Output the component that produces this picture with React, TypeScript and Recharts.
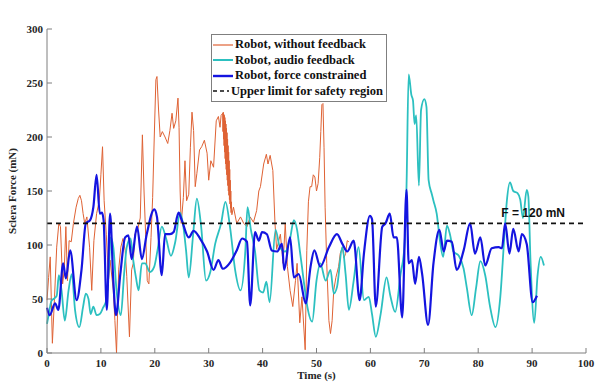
import { Legend, Line, LineChart, ReferenceLine, XAxis, YAxis } from "recharts";

// Robot, without feedback (s, mN)
const noFeedbackTime = [
  0, 0.3, 0.6, 1.0, 1.4, 1.8, 2.2, 2.5, 2.9, 3.2,
  3.5, 3.8, 4.1, 4.5, 4.9, 5.4, 5.8, 6.1, 6.4, 6.7,
  7.0, 7.4, 7.9, 8.3, 8.7, 9.2, 9.7, 10.0, 10.3, 10.6,
  11.0, 11.4, 11.7, 12.3, 12.6, 12.9, 13.3, 13.7, 14.1, 14.5,
  14.8, 15.3, 15.7, 16.0, 16.3, 16.8, 17.3, 17.7, 18.0, 18.3,
  18.6, 18.9, 19.3, 19.6, 19.9, 20.2, 20.4, 20.7, 21.0, 21.4,
  21.9, 22.4, 22.8, 23.2, 23.5, 23.9, 24.3, 24.5, 24.7, 24.9,
  25.3, 25.6, 25.9, 26.3, 26.6, 26.9, 27.2, 27.5, 27.8, 28.3,
  28.7, 29.2, 29.7, 30.0, 30.4, 30.9, 31.4, 31.8, 32.1, 32.3,
  // fast oscillation around 33 s
  32.6, 32.65, 32.7, 32.75, 32.8, 32.85, 32.9, 32.95, 33.0, 33.05,
  33.1, 33.15, 33.2, 33.25, 33.3, 33.35, 33.4, 33.45, 33.5, 33.55,
  33.6, 33.65, 33.7, 33.75, 33.8, 33.85, 33.9, 33.95, 34.0, 34.05,
  34.1, 34.15, 34.2,
  34.3, 34.6, 35.2, 35.9,
  36.5, 37.1, 37.7, 38.3, 38.9, 39.3, 39.6, 40.2, 40.7, 41.0,
  41.4, 41.9, 42.3, 42.6, 43.0, 43.3, 43.8, 44.2, 44.6, 45.1,
  45.6, 46.1, 46.4, 46.9, 47.3, 47.9, 48.2, 48.5, 48.8, 49.1,
  49.4, 49.7, 50.0, 50.3, 50.6, 50.8, 51.0, 51.2, 51.4, 51.6,
  51.9, 52.3, 52.6, 52.9, 53.2, 53.6, 54.1, 54.4, 54.8, 55.1,
  55.4, 55.7, 56.0,
];
const noFeedbackForce = [
  49, 70, 89, 9, 52, 98, 120, 117, 64, 77,
  117, 67, 104, 103, 120, 135, 143, 146, 141, 129,
  120, 126, 98, 58, 104, 129, 141, 165, 191, 141,
  110, 67, 86, 58, 30, 0, 77, 98, 106, 95,
  71, 15, 77, 83, 110, 114, 125, 202, 150, 110,
  67, 64, 107, 144, 200, 253, 256, 225, 200, 205,
  200, 194, 206, 222, 208, 215, 236, 209, 150, 120,
  144, 178, 141, 147, 190, 223, 206, 154, 166, 188,
  191, 197, 185, 160, 178, 172, 215, 219, 209, 220,
  222, 205, 223, 198, 221, 192, 220, 186, 218, 180,
  215, 175, 212, 170, 208, 165, 204, 160, 198, 155,
  192, 150, 186, 146, 178, 142, 170, 138, 160, 134,
  150, 130, 140,
  128, 135, 120, 126,
  120, 117, 126, 121, 132, 150, 154, 175, 184, 175,
  183, 169, 120, 96, 104, 110, 83, 120, 80, 58,
  43, 67, 83, 28, 52, 3, 95, 140, 154, 154,
  165, 163, 150, 157, 181, 205, 230, 231, 190, 135,
  83, 30, 18, 30, 58, 70, 80, 92, 98, 88,
  92, 104, 103,
];

// Robot, audio feedback
const audioTime = [
  0, 0.4, 0.8, 1.2, 1.8, 2.2, 2.7, 3.3, 4.0, 4.6,
  5.2, 6.0, 6.7, 7.2, 7.7, 8.1, 8.6, 9.2, 9.8, 10.4,
  11.0, 11.5, 11.8, 12.3, 12.9, 13.7, 14.3, 14.8, 15.5, 16.0,
  16.5, 17.0, 17.6, 18.2, 19.1, 19.9, 20.5, 21.3, 22.1, 23.0,
  23.8, 24.7, 25.3, 25.8, 26.3, 27.1, 27.8, 28.6, 29.5, 30.3,
  31.2, 32.3, 33.1, 34.0, 34.9, 35.9, 36.8, 37.2, 37.8, 38.6,
  39.4, 40.1, 40.7, 41.3, 42.4, 43.2, 44.2, 45.1, 45.8, 46.4,
  46.9, 47.3, 47.7, 48.3, 49.2, 50.0, 50.7, 51.7, 52.6, 53.2,
  53.8, 54.8, 55.4, 56.0, 56.9, 57.8, 58.8, 59.7, 60.3, 61.0,
  61.9, 63.0, 63.7, 64.6, 65.6, 66.3, 66.7, 67.1, 67.6, 67.9,
  68.2, 68.5, 69.0, 69.4, 70.0, 70.4, 70.8, 71.4, 71.7, 72.3,
  72.9, 73.5, 74.2, 74.8, 75.4, 76.4, 77.3, 77.9, 78.8, 79.6,
  80.4, 81.3, 82.2, 83.2, 84.1, 84.8, 85.3, 85.9, 86.5, 87.3,
  87.8, 88.3, 89.0, 89.3, 89.7, 90.4, 91.0, 91.6, 92.2,
];
const audioForce = [
  27, 38, 48, 50, 53, 72, 58, 30, 58, 73,
  40, 24, 43, 55, 50, 36, 43, 35, 36, 42,
  49, 80, 107, 98, 58, 35, 73, 98, 106, 86,
  70, 58, 83, 83, 75, 80, 95, 117, 106, 90,
  103, 130, 117, 95, 70, 109, 143, 117, 67, 75,
  101, 120, 140, 115, 77, 58, 95, 135, 115, 94,
  58, 56, 66, 47, 114, 98, 94, 106, 123, 114,
  95, 80, 64, 43, 29, 67, 83, 67, 77, 55,
  61, 98, 73, 40, 67, 98, 49, 52, 36, 15,
  36, 70, 53, 38, 73, 98, 154, 258, 239, 234,
  212, 220, 155, 225, 235, 228, 160, 147, 141, 129,
  104, 89, 118, 109, 94, 90, 78, 60, 35, 60,
  85, 72, 43, 24, 52, 104, 140, 158, 150, 148,
  142, 125, 151, 145, 86, 28, 71, 89, 81,
];

// Robot, force constrained
const constrainedTime = [
  0, 0.5, 1.5, 2.1, 3.0, 3.5, 4.3, 5.5, 6.4, 7.2,
  8.0, 8.6, 9.2, 9.8, 10.2, 10.5, 11.1, 11.7, 12.3, 12.8,
  13.6, 14.5, 15.1, 15.7, 16.7, 17.6, 18.5, 19.9, 20.4, 21.3,
  21.9, 22.8, 23.5, 24.4, 25.0, 26.3, 27.2, 28.4, 29.7, 30.9,
  31.8, 32.6, 34.0, 35.2, 36.2, 37.1, 37.7, 38.6, 39.3, 39.9,
  40.8, 41.7, 42.7, 43.6, 44.0, 45.1, 45.8, 46.7, 48.0, 48.9,
  49.6, 50.7, 52.3, 53.8, 54.8, 55.7, 56.9, 58.0, 58.8, 59.9,
  60.3, 61.0, 62.2, 62.8, 63.6, 64.3, 64.9, 65.9, 66.7, 67.1,
  67.7, 68.3, 69.0, 69.6, 70.7, 71.7, 72.8, 73.6, 74.2, 75.1,
  76.0, 77.3, 78.5, 79.4, 80.4, 81.3, 82.5, 83.8, 84.4, 85.0,
  85.8, 86.5, 87.5, 88.1, 89.0, 90.1, 90.9,
];
const constrainedForce = [
  42, 35, 46, 40, 83, 69, 95, 49, 77, 120,
  123, 135, 165, 129, 130, 123, 40, 129, 67, 35,
  73, 107, 109, 87, 117, 87, 110, 133, 126, 72,
  110, 110, 112, 130, 123, 107, 113, 106, 94, 77,
  86, 78, 84, 95, 106, 103, 44, 112, 104, 112,
  110, 95, 94, 101, 77, 107, 70, 73, 46, 80,
  95, 80, 98, 110, 101, 94, 104, 49, 92, 127,
  124, 43, 117, 120, 129, 107, 107, 33, 151, 83,
  86, 64, 89, 73, 26, 83, 114, 94, 104, 103,
  77, 95, 120, 92, 107, 81, 97, 98, 97, 120,
  92, 115, 94, 110, 101, 47, 53,
];

const timeTicks = [0, 10, 20, 30, 40, 50, 60, 70, 80, 90, 100];
const forceTicks = [0, 50, 100, 150, 200, 250, 300];
const SAFETY_LIMIT = 120;

const ORANGE = "#df6234";
const CYAN = "#2cc0c0";
const BLUE = "#1414e0";
const FRAME = "#7f7f7f";
const SERIF = "'Liberation Serif', 'Times New Roman', serif";

const toPoints = (time: number[], force: number[]) =>
  time.map((t, i) => ({ t, f: force[i] }));

const legendItems = [
  { label: "Robot, without feedback", color: ORANGE, width: 1.2, dash: undefined },
  { label: "Robot, audio feedback", color: CYAN, width: 2, dash: undefined },
  { label: "Robot, force constrained", color: BLUE, width: 2.4, dash: undefined },
  { label: "Upper limit for safety region", color: "#111", width: 1.6, dash: "4 3" },
];

function LegendBox() {
  return (
    <div
      style={{
        background: "#fff",
        border: `1px solid ${FRAME}`,
        padding: "2px 3px 2px 1px",
        fontFamily: SERIF,
        fontWeight: "bold",
        fontSize: 12.5,
        lineHeight: "15.5px",
        color: "#111",
        whiteSpace: "nowrap",
      }}
    >
      {legendItems.map((item) => (
        <div key={item.label} style={{ display: "flex", alignItems: "center" }}>
          <svg width={20} height={8} style={{ marginRight: 2 }}>
            <line
              x1={0}
              x2={20}
              y1={4}
              y2={4}
              stroke={item.color}
              strokeWidth={item.width}
              strokeDasharray={item.dash}
            />
          </svg>
          <span>{item.label}</span>
        </div>
      ))}
    </div>
  );
}

const tickStyle = { fontSize: 11, fontWeight: "bold", fill: "#262626", fontFamily: SERIF };

export default function App() {
  return (
    <div style={{ position: "absolute", left: 0, top: 0, width: 599, height: 384, background: "#fff" }}>
      <LineChart width={599} height={384} margin={{ top: 29, right: 13, left: 0, bottom: 0 }}>
        <XAxis
          dataKey="t"
          type="number"
          domain={[0, 100]}
          ticks={timeTicks}
          height={31}
          tickSize={-5}
          tickMargin={11}
          tick={tickStyle}
          stroke={FRAME}
          allowDuplicatedCategory={false}
          label={{
            value: "Time (s)",
            position: "insideBottom",
            offset: 5,
            style: { fontSize: 11, fontWeight: "bold", fill: "#262626", fontFamily: SERIF },
          }}
        />
        <XAxis
          xAxisId="top"
          orientation="top"
          type="number"
          domain={[0, 100]}
          ticks={timeTicks}
          height={0}
          tickSize={-5}
          tick={false}
          stroke={FRAME}
        />
        <YAxis
          type="number"
          domain={[0, 300]}
          ticks={forceTicks}
          width={47}
          tickSize={-5}
          tickMargin={9}
          tick={tickStyle}
          stroke={FRAME}
          label={({ viewBox }: any) => {
            const x = viewBox.x + 12;
            const y = viewBox.y + viewBox.height / 2;
            return (
              <text
                x={x}
                y={y}
                transform={`rotate(-90, ${x}, ${y})`}
                textAnchor="middle"
                dominantBaseline="central"
                fontFamily={SERIF}
                fontWeight="bold"
                fontSize={11}
                fill="#262626"
              >
                Sclera Force (mN)
              </text>
            );
          }}
        />
        <YAxis
          yAxisId="right"
          orientation="right"
          type="number"
          domain={[0, 300]}
          ticks={forceTicks}
          width={0}
          tickSize={-5}
          tick={false}
          stroke={FRAME}
        />
        <Line
          data={toPoints(noFeedbackTime, noFeedbackForce)}
          dataKey="f"
          type="linear"
          stroke={ORANGE}
          strokeWidth={1}
          dot={false}
          isAnimationActive={false}
        />
        <Line
          data={toPoints(audioTime, audioForce)}
          dataKey="f"
          type="monotone"
          stroke={CYAN}
          strokeWidth={1.8}
          dot={false}
          isAnimationActive={false}
        />
        <Line
          data={toPoints(constrainedTime, constrainedForce)}
          dataKey="f"
          type="monotone"
          stroke={BLUE}
          strokeWidth={2.2}
          dot={false}
          isAnimationActive={false}
        />
        <ReferenceLine
          y={SAFETY_LIMIT}
          stroke="#111"
          strokeWidth={1.6}
          strokeDasharray="5 4"
          label={({ viewBox }: any) => (
            <text
              x={viewBox.x + viewBox.width - 21}
              y={viewBox.y - 6}
              textAnchor="end"
              fontFamily="'Liberation Sans', Arial, sans-serif"
              fontWeight="bold"
              fontSize={12}
              fill="#111"
            >
              F = 120 mN
            </text>
          )}
        />
        <Legend
          layout="vertical"
          align="center"
          verticalAlign="middle"
          wrapperStyle={{ left: 211, top: 34, width: 176 }}
          content={() => <LegendBox />}
        />
      </LineChart>
    </div>
  );
}
